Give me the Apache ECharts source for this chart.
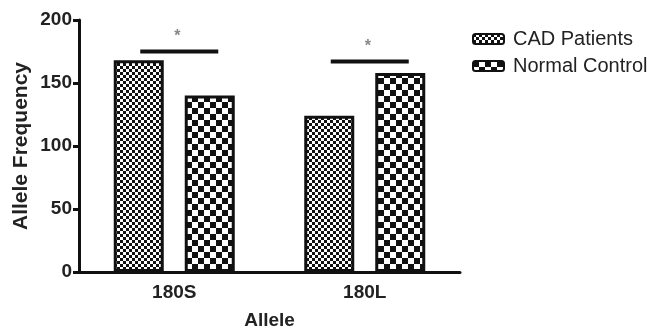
<!DOCTYPE html>
<html>
<head>
<meta charset="utf-8">
<script src="https://cdn.jsdelivr.net/npm/echarts@6/dist/echarts.min.js"></script>
<style>
  html, body { margin: 0; padding: 0; background: #fff; }
  #main { width: 651px; height: 329px; }
</style>
</head>
<body>
<div id="main"></div>
<script>
// data
var categories = ['180S', '180L'];
var cadPatients = [168, 124];
var normalControl = [140, 158];
var yTicks = [0, 50, 100, 150, 200];
// significance bars: [category index, height]
var sigBars = [[0, 175], [1, 167]];

// checkerboard fill
function checker(cell) {
    var c = document.createElement('canvas');
    c.width = c.height = cell * 2;
    var ctx = c.getContext('2d');
    ctx.fillStyle = '#fff';
    ctx.fillRect(0, 0, cell * 2, cell * 2);
    ctx.fillStyle = '#111';
    ctx.fillRect(0, 0, cell, cell);
    ctx.fillRect(cell, cell, cell, cell);
    return { image: c, repeat: 'repeat' };
}

var font = 'Liberation Sans, Arial, sans-serif';
var myChart = echarts.init(document.getElementById('main'));

var option = {
    animation: false,
    grid: { left: 79, top: 20, right: 191, bottom: 57, containLabel: false, outerBoundsMode: 'none' },
    legend: {
        orient: 'vertical',
        left: 467, top: 24,
        itemWidth: 31, itemHeight: 10,
        itemGap: 7,
        textStyle: { fontFamily: font, fontSize: 20, color: '#222', padding: [0, 0, 0, 4] },
        data: ['CAD Patients', 'Normal Control']
    },
    xAxis: {
        type: 'category',
        data: categories,
        name: 'Allele',
        nameLocation: 'middle',
        nameGap: 39,
        nameMoveOverlap: false,
        nameTextStyle: { fontFamily: font, fontSize: 19, fontWeight: 'bold', color: '#222' },
        axisLine: { lineStyle: { color: '#111', width: 3 } },
        axisTick: { alignWithLabel: true, length: 6, lineStyle: { color: '#111', width: 3 } },
        axisLabel: { fontFamily: font, fontSize: 19, fontWeight: 'bold', color: '#222', margin: 11 }
    },
    yAxis: {
        type: 'value',
        min: 0, max: 200, interval: 50,
        name: 'Allele Frequency',
        nameLocation: 'middle',
        nameGap: 47,
        nameMoveOverlap: false,
        nameTextStyle: { fontFamily: font, fontSize: 21, fontWeight: 'bold', color: '#222' },
        axisLine: { show: true, lineStyle: { color: '#111', width: 3 } },
        axisTick: { show: true, length: 6, lineStyle: { color: '#111', width: 3 } },
        axisLabel: { fontFamily: font, fontSize: 19, fontWeight: 'bold', color: '#222', margin: 7,
            formatter: function (v) { return yTicks.indexOf(v) >= 0 ? v : ''; } },
        splitLine: { show: false }
    },
    series: [
        {
            name: 'CAD Patients',
            type: 'bar',
            data: cadPatients,
            barWidth: 50,
            barGap: '42%',
            itemStyle: { color: checker(3), borderColor: '#111', borderWidth: 3 }
        },
        {
            name: 'Normal Control',
            type: 'bar',
            data: normalControl,
            barWidth: 50,
            itemStyle: { color: checker(6), borderColor: '#111', borderWidth: 3 }
        },
        {
            type: 'custom',
            data: sigBars,
            silent: true,
            renderItem: function (params, api) {
                var p = api.coord([api.value(0), api.value(1)]);
                var cx = p[0] + 5;
                return {
                    type: 'group',
                    children: [
                        { type: 'line', shape: { x1: cx - 39, y1: p[1], x2: cx + 39, y2: p[1] },
                          style: { stroke: '#111', lineWidth: 4 } },
                        { type: 'text', style: { x: cx - 2, y: p[1] - 15, text: '*', fill: '#888',
                          font: 'bold 16px ' + font, textAlign: 'center', textVerticalAlign: 'middle' } }
                    ]
                };
            }
        }
    ]
};

myChart.setOption(option);
</script>
</body>
</html>
